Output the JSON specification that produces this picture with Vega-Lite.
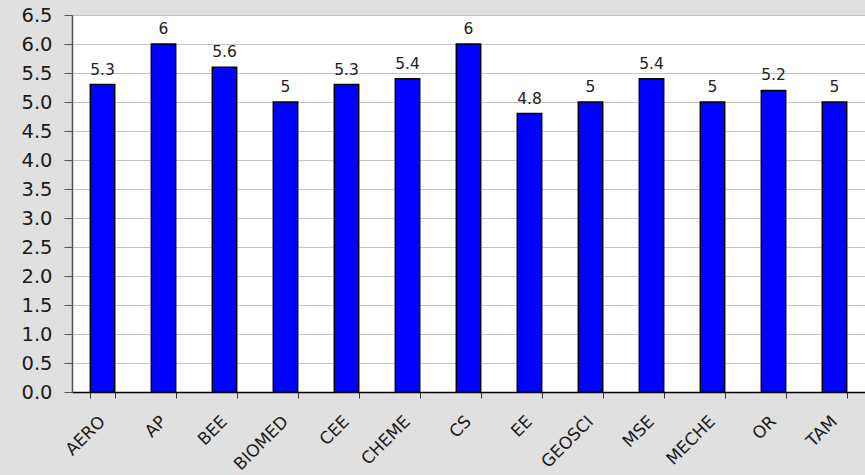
{
  "$schema": "https://vega.github.io/schema/vega-lite/v6.json",
  "width": 793,
  "height": 377,
  "autosize": {"type": "none"},
  "padding": {"left": 72, "top": 15, "right": 0, "bottom": 83},
  "background": "#e0e0e0",
  "config": {
    "view": {"fill": "white", "stroke": null},
    "font": "DejaVu Sans"
  },
  "data": {
    "values": [
      {"dept": "AERO", "score": 5.3},
      {"dept": "AP", "score": 6},
      {"dept": "BEE", "score": 5.6},
      {"dept": "BIOMED", "score": 5},
      {"dept": "CEE", "score": 5.3},
      {"dept": "CHEME", "score": 5.4},
      {"dept": "CS", "score": 6},
      {"dept": "EE", "score": 4.8},
      {"dept": "GEOSCI", "score": 5},
      {"dept": "MSE", "score": 5.4},
      {"dept": "MECHE", "score": 5},
      {"dept": "OR", "score": 5.2},
      {"dept": "TAM", "score": 5}
    ]
  },
  "encoding": {
    "x": {
      "field": "dept",
      "type": "nominal",
      "sort": null,
      "scale": {"paddingInner": 0.6, "paddingOuter": 0.3},
      "axis": {
        "title": null,
        "labelAngle": -45,
        "labelAlign": "right",
        "labelBaseline": "top",
        "labelFontSize": 17,
        "labelColor": "#1a1a1a",
        "labelPadding": 15,
        "labelOffset": -6,
        "tickBand": "extent",
        "tickSize": 6,
        "tickColor": "#333",
        "domainColor": "#000",
        "domainWidth": 1.5
      }
    },
    "y": {
      "field": "score",
      "type": "quantitative",
      "scale": {"domain": [0, 6.5], "nice": false},
      "axis": {
        "title": null,
        "values": [0, 0.5, 1, 1.5, 2, 2.5, 3, 3.5, 4, 4.5, 5, 5.5, 6, 6.5],
        "format": ".1f",
        "labelFontSize": 19.5,
        "labelColor": "#1a1a1a",
        "labelPadding": 12,
        "tickSize": 8,
        "tickColor": "#555",
        "domainColor": "#555",
        "domainWidth": 1.5,
        "grid": true,
        "gridColor": "#c4c4c4",
        "gridWidth": 1
      }
    }
  },
  "layer": [
    {
      "mark": {"type": "bar", "fill": "#0000ff", "stroke": "#000", "strokeWidth": 1.5}
    },
    {
      "mark": {"type": "text", "baseline": "alphabetic", "dy": -10, "fontSize": 15.5, "color": "#222"},
      "encoding": {"text": {"field": "score", "type": "quantitative", "format": "~g"}}
    }
  ]
}
